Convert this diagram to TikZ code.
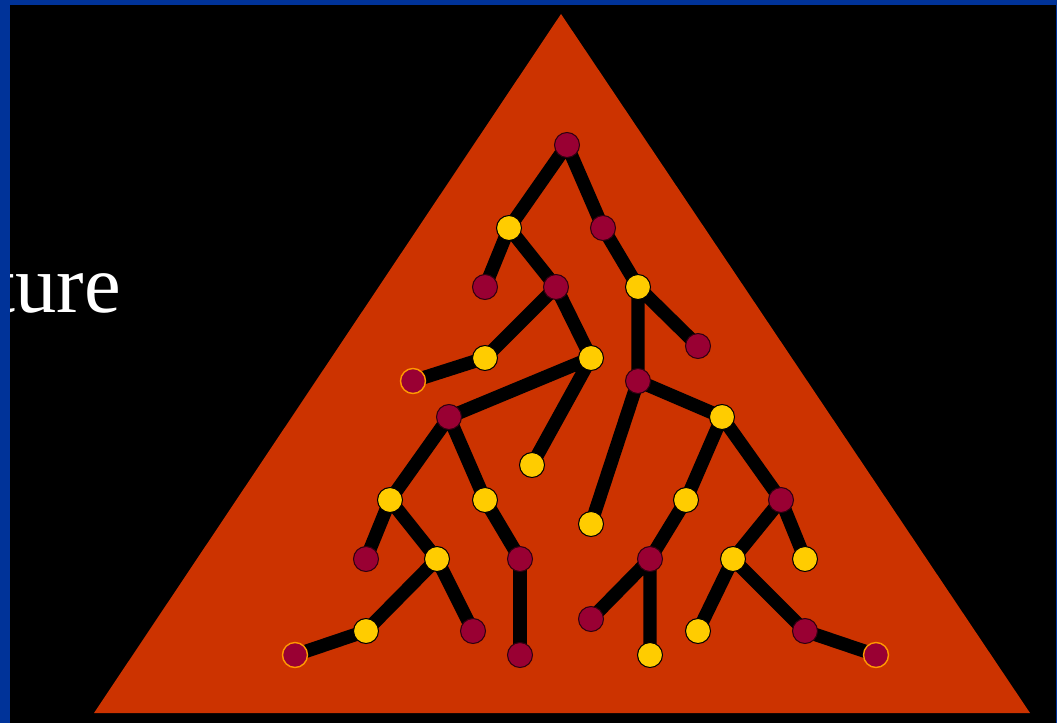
\documentclass[tikz,border=0pt]{standalone}
\usepackage{fontspec}
\setmainfont{Liberation Serif}
\definecolor{slideblue}{RGB}{0, 51, 153}
\definecolor{rust}{RGB}{204, 51, 0}
\definecolor{wine}{RGB}{153, 0, 51}
\definecolor{gold}{RGB}{255, 204, 0}
\definecolor{amber}{RGB}{255, 153, 0}
\pgfdeclarelayer{bg}
\pgfdeclarelayer{edges}
\pgfsetlayers{bg,edges,main}
\begin{document}
\begin{tikzpicture}[x=0.02cm, y=-0.02cm,
  vtx/.style={circle, inner sep=0pt, minimum size=0.5cm, line width=0.6pt},
  red/.style={vtx, fill=wine, draw=black!70!wine},
  yel/.style={vtx, fill=gold, draw=black},
  tip/.style={vtx, fill=wine, draw=amber, line width=0.8pt},
  edge/.style={line width=7.6pt, black}
]
  \useasboundingbox (0,0) rectangle (1057,723);

  \begin{pgfonlayer}{bg}
    \fill[black] (0,0) rectangle (1057,723);
    \node[anchor=base east, inner sep=0pt, text=white, font=\fontsize{47}{50}\selectfont] (word) at (121,312) {ture};
    \fill[slideblue] (0,0) rectangle (10,723);
    \fill[slideblue] (0,0) rectangle (1057,5);
    \fill[slideblue] (1056,0) rectangle (1057,723);
    \fill[rust] (561,14) -- (94,713) -- (1030,713) -- cycle;
  \end{pgfonlayer}

  % tree
  \node[red] (a) at (567,145) {};
  \node[yel] (b) at (509,228) {};
  \node[red] (c) at (603,228) {};
  \node[red] (d) at (485,287) {};
  \node[red] (e) at (556,287) {};
  \node[yel] (f) at (638,287) {};
  \node[red] (g) at (698,346) {};
  \node[yel] (h) at (485,358) {};
  \node[yel] (i) at (591,358) {};
  \node[tip] (j) at (413,381) {};
  \node[red] (k) at (638,381) {};
  \node[red] (l) at (449,417) {};
  \node[yel] (n) at (722,417) {};
  \node[yel] (o) at (532,465) {};
  \node[yel] (p) at (390,500) {};
  \node[yel] (q) at (485,500) {};
  \node[yel] (r) at (686,500) {};
  \node[red] (s) at (781,500) {};
  \node[yel] (t) at (591,524) {};
  \node[red] (u) at (366,559) {};
  \node[yel] (v) at (437,559) {};
  \node[red] (w) at (520,559) {};
  \node[red] (x) at (650,559) {};
  \node[yel] (z) at (733,559) {};
  \node[yel] (aa) at (805,559) {};
  \node[yel] (ab) at (366,631) {};
  \node[red] (ac) at (473,631) {};
  \node[red] (ad) at (591,619) {};
  \node[yel] (ae) at (698,631) {};
  \node[red] (af) at (805,631) {};
  \node[tip] (ag) at (295,655) {};
  \node[red] (ah) at (520,655) {};
  \node[yel] (ai) at (650,655) {};
  \node[tip] (aj) at (876,655) {};

  \begin{pgfonlayer}{edges}
    \draw[edge] (a.center) -- (b.center) (a.center) -- (c.center);
    \draw[edge] (b.center) -- (d.center) (b.center) -- (e.center);
    \draw[edge] (c.center) -- (f.center);
    \draw[edge] (e.center) -- (h.center) (e.center) -- (i.center);
    \draw[edge] (f.center) -- (g.center) (f.center) -- (k.center);
    \draw[edge] (h.center) -- (j.center);
    \draw[edge] (i.center) -- (l.center) (i.center) -- (o.center);
    \draw[edge] (k.center) -- (t.center) (k.center) -- (n.center);
    \draw[edge] (l.center) -- (p.center) (l.center) -- (q.center);
    \draw[edge] (n.center) -- (r.center) (n.center) -- (s.center);
    \draw[edge] (p.center) -- (u.center) (p.center) -- (v.center);
    \draw[edge] (q.center) -- (w.center);
    \draw[edge] (r.center) -- (x.center);
    \draw[edge] (s.center) -- (z.center) (s.center) -- (aa.center);
    \draw[edge] (v.center) -- (ab.center) (v.center) -- (ac.center);
    \draw[edge] (w.center) -- (ah.center);
    \draw[edge] (x.center) -- (ad.center) (x.center) -- (ai.center);
    \draw[edge] (z.center) -- (ae.center) (z.center) -- (af.center);
    \draw[edge] (ab.center) -- (ag.center);
    \draw[edge] (af.center) -- (aj.center);
  \end{pgfonlayer}
\end{tikzpicture}
\end{document}
